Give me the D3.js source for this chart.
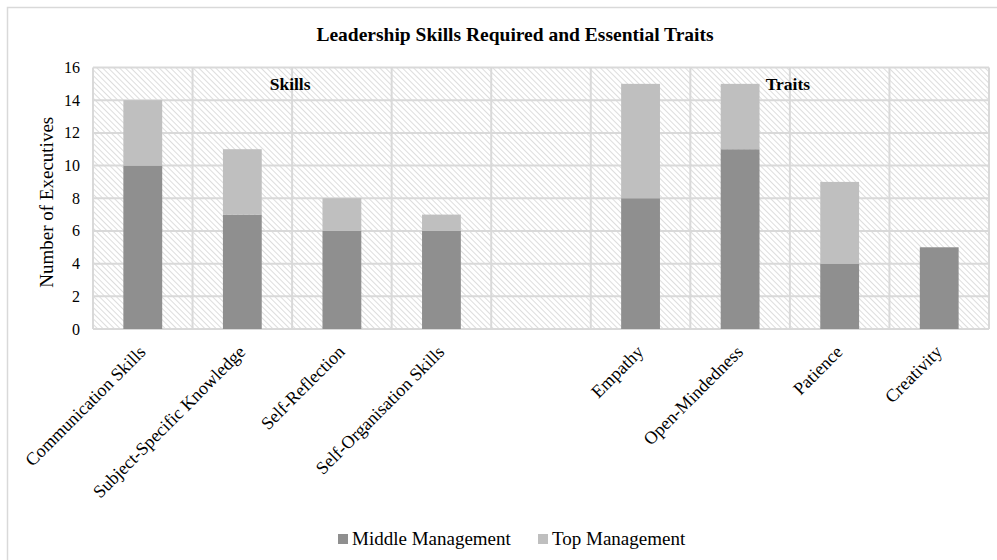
<!DOCTYPE html>
<html>
<head>
<meta charset="utf-8">
<script src="https://cdn.jsdelivr.net/npm/d3@7"></script>
<style>
  body { margin: 0; background: #fff; }
  text { font-family: "Liberation Serif", "Times New Roman", serif; fill: #000; }
</style>
</head>
<body>
<div class="chart"></div>
<script>
var categories = ["Communication Skills", "Subject-Specific Knowledge", "Self-Reflection",
  "Self-Organisation Skills", " ", "Empathy", "Open-Mindedness", "Patience", "Creativity"]
var middle = [10, 7, 6, 6, 0, 8, 11, 4, 5]
var top_ = [4, 4, 2, 1, 0, 7, 4, 5, 0]
var seriesNames = ["Middle Management", "Top Management"]
var seriesColors = ["#8f8f8f", "#bfbfbf"]
var yTicks = [0, 2, 4, 6, 8, 10, 12, 14, 16]
var groupLabels = [{text: "Skills", at: 2}, {text: "Traits", at: 7}]

var width = 997, height = 560
var margin = {left: 93, right: 8, top: 67.5, bottom: 231}

var svg = d3.select(".chart").append("svg")
  .attr("width", width)
  .attr("height", height)

var defs = svg.append("defs")
defs.append("pattern")
  .attr("id", "hatch")
  .attr("patternUnits", "userSpaceOnUse")
  .attr("width", 4).attr("height", 4)
  .attr("patternTransform", "rotate(-45)")
  .append("line")
  .attr("x1", 0).attr("y1", 0).attr("x2", 0).attr("y2", 4)
  .attr("stroke", "#cfcfcf").attr("stroke-width", 1.4)

// chart area border (runs off the picture at right and bottom)
svg.append("rect")
  .attr("x", 7.5).attr("y", 7.5)
  .attr("width", 1020).attr("height", 600)
  .attr("fill", "none").attr("stroke", "#d9d9d9").attr("stroke-width", 1.5)

svg.append("text")
  .attr("x", 515).attr("y", 41)
  .attr("text-anchor", "middle")
  .style("font-size", "19.5px").style("font-weight", "bold")
  .text("Leadership Skills Required and Essential Traits")

var x = d3.scaleBand()
  .domain(categories)
  .range([margin.left, width - margin.right])
  .paddingInner(0.61)
  .paddingOuter(0.305)

var y = d3.scaleLinear()
  .domain([0, 16])
  .range([height - margin.bottom, margin.top])

var plot = svg.append("g")

plot.append("rect")
  .attr("x", x.range()[0]).attr("y", y(16))
  .attr("width", x.range()[1] - x.range()[0])
  .attr("height", y(0) - y(16))
  .attr("fill", "url(#hatch)")

// gridlines
plot.selectAll(".hgrid").data(yTicks).enter().append("line")
  .attr("class", "hgrid")
  .attr("x1", x.range()[0]).attr("x2", x.range()[1])
  .attr("y1", d => y(d)).attr("y2", d => y(d))
  .attr("stroke", "#d9d9d9").attr("stroke-width", 2)

var edges = categories.map(c => x(c) - x.step() * x.paddingInner() / 2)
edges.push(x.range()[1])
plot.selectAll(".vgrid").data(edges).enter().append("line")
  .attr("class", "vgrid")
  .attr("x1", d => d).attr("x2", d => d)
  .attr("y1", y(16)).attr("y2", y(0))
  .attr("stroke", "#d9d9d9").attr("stroke-width", 2)

// stacked bars
var rows = categories.map((c, i) => ({cat: c, mid: middle[i], top: top_[i]}))
var stack = d3.stack().keys(["mid", "top"])(rows)

plot.selectAll(".series").data(stack).enter().append("g")
  .attr("fill", (d, i) => seriesColors[i])
  .selectAll("rect").data(d => d.filter(p => p[1] > p[0])).enter().append("rect")
  .attr("x", d => x(d.data.cat))
  .attr("width", x.bandwidth())
  .attr("y", d => y(d[1]))
  .attr("height", d => y(d[0]) - y(d[1]))

// y axis labels
svg.selectAll(".ytick").data(yTicks).enter().append("text")
  .attr("x", 80).attr("y", d => y(d) + 5.5)
  .attr("text-anchor", "end")
  .style("font-size", "16px")
  .text(d => d)

svg.append("text")
  .attr("transform", `translate(53,${(y(0) + y(16)) / 2 + 4}) rotate(-90)`)
  .attr("text-anchor", "middle")
  .style("font-size", "19px")
  .text("Number of Executives")

// x axis labels
svg.selectAll(".xlab").data(categories).enter().append("text")
  .attr("transform", d => `translate(${x(d) + x.bandwidth() / 2 + 4},${y(0) + 24}) rotate(-45)`)
  .attr("text-anchor", "end")
  .style("font-size", "18px")
  .text(d => d.trim())

// group labels
svg.selectAll(".grp").data(groupLabels).enter().append("text")
  .attr("x", d => x.range()[0] + x.step() * d.at - 2)
  .attr("y", y(14.6))
  .attr("text-anchor", "middle")
  .style("font-size", "17.5px").style("font-weight", "bold")
  .text(d => d.text)

// legend
var legend = svg.append("g")
var legendX = [338, 538]
seriesNames.forEach(function (name, i) {
  legend.append("rect")
    .attr("x", legendX[i]).attr("y", 534)
    .attr("width", 10).attr("height", 10)
    .attr("fill", seriesColors[i])
  legend.append("text")
    .attr("x", legendX[i] + 14).attr("y", 545)
    .style("font-size", "19px")
    .text(name)
})
</script>
</body>
</html>
